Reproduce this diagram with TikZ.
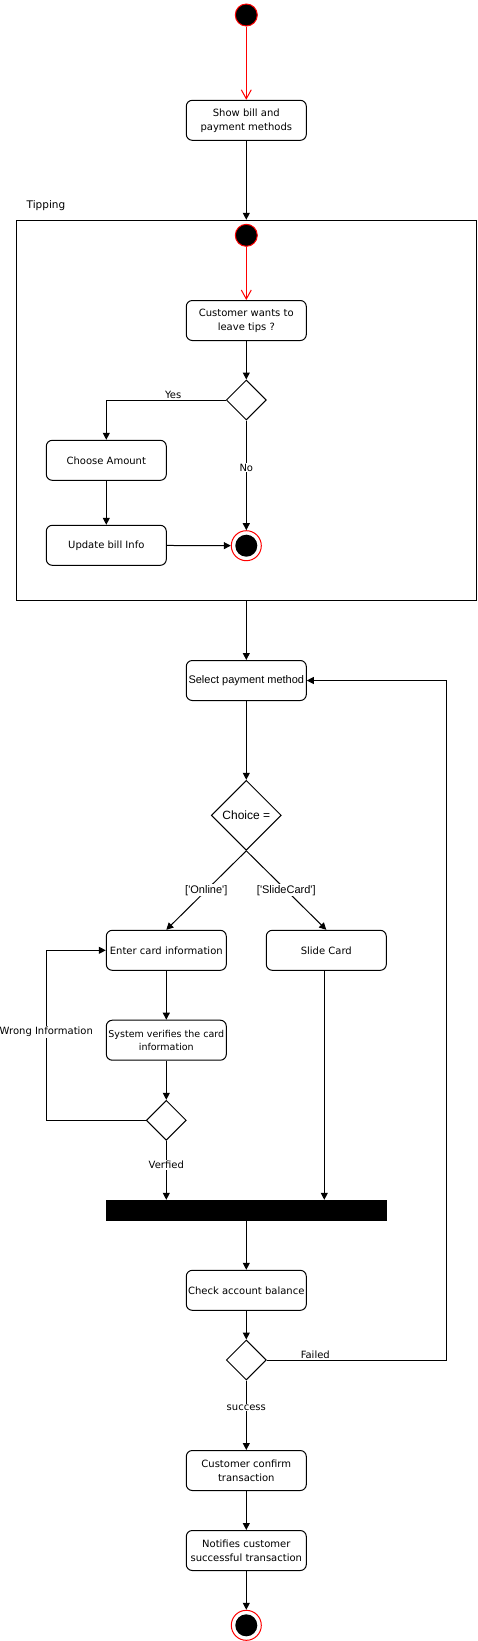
\documentclass[tikz,border=0pt]{standalone}
\usepackage{fontspec}
\setmainfont{Liberation Sans}
\newfontfamily\tahomafont{DejaVu Sans}
\usetikzlibrary{arrows.meta,shapes.geometric}

\begin{document}
\begin{tikzpicture}[x=1pt,y=-1pt,line width=1pt,>={Triangle[length=7pt,width=7pt]}]
    \tikzstyle{action}=[rectangle,rounded corners=6pt,draw=black,fill=white,minimum width=120pt,minimum height=40pt,inner sep=1pt,align=center,font=\tahomafont\fontsize{10}{14}\selectfont]
    \tikzstyle{choice}=[diamond,draw=black,fill=white,minimum width=40pt,minimum height=40pt,inner sep=0pt]
    \tikzstyle{initnode}=[circle,draw=red,fill=black,minimum size=22pt,inner sep=0pt]
    \tikzstyle{finalnode}=[circle,draw=red,fill=white,minimum size=30pt,inner sep=0pt,path picture={\fill[black] (path picture bounding box.center) circle (11pt);}]
    \tikzstyle{guard}=[fill=white,inner sep=1pt,font=\tahomafont\fontsize{10}{12}\selectfont]
    \tikzstyle{branch}=[fill=white,inner sep=1pt,font=\fontsize{11}{13}\selectfont]
    \tikzstyle{redflow}=[red,-{Straight Barb[length=9pt,width=10pt]}]
    \useasboundingbox (0,0) rectangle (477,1641);

    \node[initnode] (init) at (246.3,15) {};
    \node[action] (bill) at (246.3,120.3) {Show bill and\\payment methods};

    % tipping region
    \node[draw,minimum width=460.4pt,minimum height=380pt,inner sep=0pt] (tipping) at (246.5,410.3) {};
    \node[font=\tahomafont\fontsize{10.5}{12}\selectfont] (tiplabel) at (46,205.7) {Tipping};
    \node[initnode] (tipinit) at (246.3,235.3) {};
    \node[action] (wants) at (246.3,320.5) {Customer wants to\\leave tips ?};
    \node[choice] (tipchoice) at (246.3,400) {};
    \node[action] (amount) at (106.3,460.3) {Choose Amount};
    \node[action] (update) at (106.3,545.3) {Update bill Info};
    \node[finalnode] (tipend) at (246.3,545.7) {};

    % payment
    \node[action,font=\fontsize{11}{13}\selectfont] (select) at (246.3,680.5) {Select payment method};
    \node[choice,minimum width=70pt,minimum height=70pt,font=\fontsize{12}{14}\selectfont] (method) at (246.3,815.3) {Choice =};
    \node[action] (enter) at (166.3,950.3) {Enter card information};
    \node[action] (slide) at (326.3,950.3) {Slide Card};
    \node[action,font=\tahomafont\fontsize{9.5}{13}\selectfont] (verify) at (166.3,1040.2) {System verifies the card\\information};
    \node[choice] (valid) at (166.3,1120.3) {};
    \node[fill=black,minimum width=280.7pt,minimum height=20.4pt,inner sep=0pt] (join) at (246.3,1210.5) {};
    \node[action] (balance) at (246.3,1290.3) {Check account balance};
    \node[choice] (funds) at (246.3,1360) {};
    \node[action] (confirm) at (246.3,1470.5) {Customer confirm\\transaction};
    \node[action] (notify) at (246.3,1550.5) {Notifies customer\\successful transaction};
    \node[finalnode] (done) at (246.3,1625.3) {};

    \coordinate (loopback) at (46.3,1120.3);
    \coordinate (retry) at (446.3,1360);

    \draw[redflow] (init) -- (bill);
    \draw[redflow] (tipinit) -- (wants);
    \draw[->] (bill) -- (bill |- tipping.north);
    \draw[->] (tipping.south -| select) -- (select);

    \foreach \from/\to in {wants/tipchoice, amount/update, update/tipend, select/method,
                           enter/verify, verify/valid, join/balance, balance/funds,
                           confirm/notify, notify/done}
        \draw[->] (\from) -- (\to);

    \draw[->] (tipchoice) -| node[guard,fill=none,above,pos=0.22] {Yes} (amount);
    \draw[->] (tipchoice) -- node[guard,pos=0.43] {No} (tipend);
    \draw[->] (method.south) -- node[branch] {[\textquotesingle Online\textquotesingle]} (enter.north);
    \draw[->] (method.south) -- node[branch] {[\textquotesingle SlideCard\textquotesingle]} (slide.north);
    \draw[->] (valid) -- (loopback) |- node[guard,pos=0.26] {Wrong Information} (enter);
    \draw[->] (valid) -- node[guard,pos=0.41] {Verfied} (valid |- join.north);
    \draw[->] ([xshift=-2pt]slide.south) -- ([xshift=-2pt]slide.south |- join.north);
    \draw[->] (funds) -- node[guard,fill=none,above,pos=0.27] {Failed} (retry) |- (select);
    \draw[->] (funds) -- node[guard,pos=0.39] {success} (confirm);
\end{tikzpicture}
\end{document}
